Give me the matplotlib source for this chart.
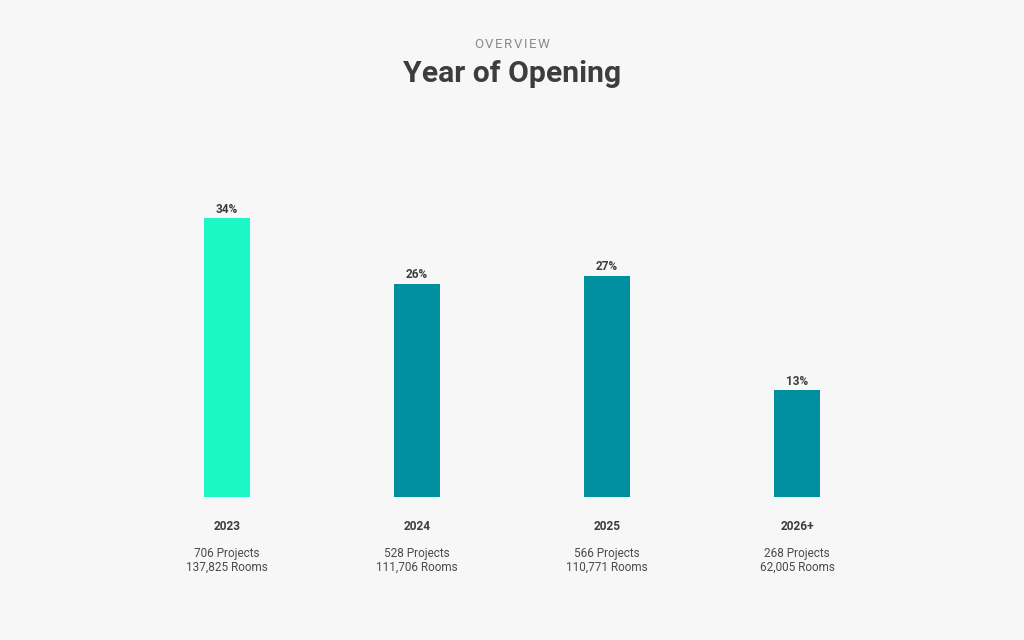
import matplotlib
matplotlib.use("Agg")
import matplotlib.pyplot as plt

years = ["2023", "2024", "2025", "2026+"]
shares = [34, 26, 27, 13]
projects = [706, 528, 566, 268]
rooms = [137825, 111706, 110771, 62005]
colors = ["#1cf7c6", "#008f9f", "#008f9f", "#008f9f"]

BG = "#f7f7f7"
DARK = "#3d3d40"
plt.rcParams['font.family'] = ['Roboto', 'DejaVu Sans']

fig = plt.figure(figsize=(10.24, 6.4), dpi=100, facecolor=BG)
W, H = 1024, 640
left, right, bottom, top = 132, 892, 497, 150
ax = fig.add_axes([left / W, 1 - bottom / H, (right - left) / W, (bottom - top) / H])
ax.set_facecolor(BG)
xs = list(range(len(years)))
ax.bar(xs, shares, width=0.237, color=colors)
ax.set_xlim(-0.5, len(years) - 0.5)
ax.set_ylim(0, (bottom - top) / 8.2)
ax.axis('off')

for x, s in zip(xs, shares):
    ax.annotate(f"{s}%", (x, s), xytext=(0, 1.8), textcoords='offset points',
                ha='center', va='bottom', fontsize=8.5, fontweight='bold', color=DARK)

for x, y, p, r in zip(xs, years, projects, rooms):
    ax.annotate(y, (x, 0), xytext=(0, -29.5 * 0.72), textcoords='offset points',
                ha='center', va='center', fontsize=8.6, fontweight='bold', color=DARK)
    ax.annotate(f"{p} Projects", (x, 0), xytext=(0, -56.5 * 0.72), textcoords='offset points',
                ha='center', va='center', fontsize=8.5, color="#4a4a4d")
    ax.annotate(f"{r:,} Rooms", (x, 0), xytext=(0, -70.5 * 0.72), textcoords='offset points',
                ha='center', va='center', fontsize=8.5, color="#4a4a4d")

fig.text(0.5, 1 - 74.5 / H, "Year of Opening", ha='center', va='center',
         fontsize=21.7, fontweight='bold', color=DARK)

sub = "OVERVIEW"
fig.canvas.draw()
renderer = fig.canvas.get_renderer()
widths = []
for ch in sub:
    t = fig.text(0, 0, ch, fontsize=9.5)
    widths.append(t.get_window_extent(renderer).width)
    t.remove()
spacing = 1.5
total = sum(widths) + spacing * (len(sub) - 1)
x0 = 512 - total / 2
for ch, w in zip(sub, widths):
    fig.text(x0 / W, 1 - 44.5 / H, ch, ha='left', va='center', fontsize=9.5, color="#8a8a8d")
    x0 += w + spacing

fig.savefig("out.png", dpi=100, facecolor=BG)
